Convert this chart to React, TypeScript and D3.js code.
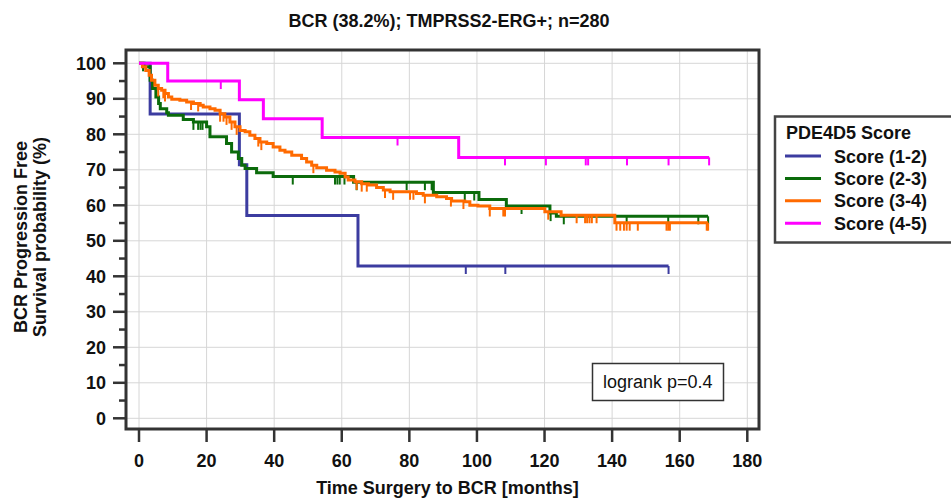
import React from "react";
import * as d3 from "d3";

// ---------- data ----------
const title = "BCR (38.2%); TMPRSS2-ERG+; n=280";
const xLabel = "Time Surgery to BCR [months]";
const yLabel1 = "BCR Progression Free";
const yLabel2 = "Survival probability (%)";
const legendTitle = "PDE4D5 Score";
const seriesNames = ["Score (1-2)", "Score (2-3)", "Score (3-4)", "Score (4-5)"];
const seriesColors = ["#3c3ca0", "#0b6b0b", "#ff6a00", "#ff00ff"];
const xTicks = [0, 20, 40, 60, 80, 100, 120, 140, 160, 180];
const yTicks = [0, 10, 20, 30, 40, 50, 60, 70, 80, 90, 100];
const yMinorTicks = [5, 15, 25, 35, 45, 55, 65, 75, 85, 95];
const pText = "logrank p=0.4";

// step drops: [time (months), survival after drop (%)]
const blueDrops: [number, number][] = [
  [3.3, 85.7], [29.7, 71.4], [31.9, 57.1], [64.8, 42.9],
];
const blueEnd = 156.7;
const blueCensor = [96.7, 108.4, 156.7];

const greenDrops: [number, number][] = [
  [1.5, 99.0], [3.3, 95.2], [4.0, 92.9], [5.0, 90.5], [5.8, 88.7], [6.3, 87.2],
  [8.2, 86.1], [8.7, 85.4], [13.1, 84.2], [16.1, 83.5], [20.0, 82.1], [21.0, 79.3],
  [25.9, 77.4], [27.4, 75.0], [29.4, 73.2], [30.4, 71.3], [31.4, 70.4], [34.8, 69.2],
  [39.7, 68.1], [63.5, 66.5], [87.1, 63.6], [100.6, 61.6], [108.7, 59.8],
  [121.6, 57.8], [123.5, 56.9],
];
const greenEnd = 168.4;
const greenCensor = [
  1.2, 16.1, 17.5, 18.2, 18.8, 45.5, 58.0, 58.7, 59.4, 60.8, 64.4, 79.2, 84.6,
  86.6, 96.4, 99.2, 113.2, 121.8, 125.7, 144.3, 156.6, 165.5, 168.4,
];

const orangeDrops: [number, number][] = [
  [1.0, 99.0], [2.0, 98.0], [3.0, 96.6], [3.7, 95.2], [4.7, 93.8], [5.7, 92.9],
  [6.7, 92.4], [7.7, 91.5], [8.7, 90.5], [9.7, 89.9], [12.1, 89.6], [14.1, 89.1],
  [16.1, 88.7], [18.1, 88.2], [19.0, 87.7], [21.0, 87.2], [22.5, 86.8], [24.0, 85.8],
  [25.4, 84.9], [26.9, 83.5], [28.4, 82.1], [29.9, 81.1], [31.4, 80.7], [32.8, 79.7],
  [34.3, 78.8], [35.8, 77.8], [37.8, 77.4], [39.7, 76.4], [41.7, 75.5], [43.2, 75.0],
  [45.2, 74.1], [48.1, 73.2], [49.6, 72.2], [51.1, 71.3], [52.6, 70.6], [55.5, 69.9],
  [58.0, 69.4], [59.5, 69.0], [61.0, 68.0], [61.9, 67.1], [63.9, 66.6], [65.9, 66.1],
  [67.9, 65.7], [70.3, 65.0], [72.3, 64.3], [74.3, 63.8], [82.1, 63.3], [84.1, 62.8],
  [88.1, 62.4], [91.0, 61.9], [92.5, 61.2], [96.4, 61.0], [97.9, 60.0], [100.3, 59.8],
  [103.8, 59.1], [120.1, 58.2], [124.9, 57.2], [140.8, 55.1],
];
const orangeEnd = 168.4;
const orangeCensor = [
  5.7, 7.2, 7.7, 15.4, 17.5, 24.0, 25.0, 25.9, 27.4, 28.9, 35.3, 36.2, 51.6, 64.4,
  65.9, 67.4, 72.8, 75.2, 80.2, 81.2, 84.6, 92.3, 96.0, 103.8, 107.8, 108.3, 121.1,
  129.5, 132.0, 132.6, 133.3, 134.0, 135.4, 141.3, 142.4, 143.5, 144.3, 145.2,
  147.6, 156.1, 156.6, 157.1, 168.0, 168.4,
];

const magentaDrops: [number, number][] = [
  [8.5, 95.0], [29.7, 89.7], [36.8, 84.4], [54.2, 79.1], [94.6, 73.5],
];
const magentaEnd = 168.7;
const magentaCensor = [24.2, 76.5, 108.3, 120.4, 132.2, 132.9, 144.4, 156.7, 168.7];

const allDrops = [blueDrops, greenDrops, orangeDrops, magentaDrops];
const allEnds = [blueEnd, greenEnd, orangeEnd, magentaEnd];
const allCensor = [blueCensor, greenCensor, orangeCensor, magentaCensor];

// ---------- layout ----------
const W = 951;
const H = 502;
const frame = { left: 126, top: 50, right: 759, bottom: 429 };
const FONT = "'Liberation Sans', Arial, Helvetica, sans-serif";

const x = d3.scaleLinear().domain([0, 180]).range([139, 747.3]);
const y = d3.scaleLinear().domain([0, 100]).range([418.3, 63.3]);

function survivalAt(drops: [number, number][], t: number) {
  let s = 100;
  for (const [dt, v] of drops) if (dt <= t) s = v;
  return s;
}

const stepLine = d3
  .line<[number, number]>()
  .x((d) => x(d[0]))
  .y((d) => y(d[1]))
  .curve(d3.curveStepAfter);

export default function App() {
  const order = [0, 1, 2, 3];
  return (
    <svg
      width={W}
      height={H}
      style={{ position: "absolute", left: 0, top: 0, background: "#fff" }}
      fontFamily={FONT}
    >
      <rect x={0} y={0} width={W} height={H} fill="#fff" />
      {/* title */}
      <text x={449} y={26.5} textAnchor="middle" fontSize={18} fontWeight="bold" fill="#111">
        {title}
      </text>

      {/* grid */}
      <g stroke="#d6d6d6" strokeWidth={1}>
        {xTicks.map((t) => (
          <line key={"gx" + t} x1={x(t)} x2={x(t)} y1={frame.top} y2={frame.bottom} />
        ))}
        {yTicks.map((t) => (
          <line key={"gy" + t} x1={frame.left} x2={frame.right} y1={y(t)} y2={y(t)} />
        ))}
      </g>

      {/* curves */}
      {order.map((i) => {
        const drops = allDrops[i];
        const end = allEnds[i];
        const last = drops[drops.length - 1][1];
        const pts: [number, number][] = [[0, 100], ...drops, [end, last]];
        return (
          <g key={"s" + i}>
            <path d={stepLine(pts) || ""} fill="none" stroke={seriesColors[i]} strokeWidth={3} />
            {allCensor[i].map((c, k) => {
              const s = survivalAt(drops, c);
              return (
                <line
                  key={k}
                  x1={x(c)}
                  x2={x(c)}
                  y1={y(s)}
                  y2={y(s) + 8}
                  stroke={seriesColors[i]}
                  strokeWidth={2}
                />
              );
            })}
          </g>
        );
      })}

      {/* frame */}
      <rect
        x={frame.left}
        y={frame.top}
        width={frame.right - frame.left}
        height={frame.bottom - frame.top}
        fill="none"
        stroke="#333"
        strokeWidth={3}
      />

      {/* y axis ticks */}
      <g stroke="#333" strokeWidth={2.5}>
        {yTicks.map((t) => (
          <line key={"yt" + t} x1={113} x2={frame.left} y1={y(t)} y2={y(t)} />
        ))}
        {yMinorTicks.map((t) => (
          <line key={"ym" + t} x1={119} x2={frame.left} y1={y(t)} y2={y(t)} />
        ))}
      </g>
      {yTicks.map((t) => (
        <text
          key={"yl" + t}
          x={106}
          y={y(t) + 6.5}
          textAnchor="end"
          fontSize={18}
          fontWeight="bold"
          fill="#111"
        >
          {t}
        </text>
      ))}

      {/* x axis ticks */}
      <g stroke="#333" strokeWidth={2.5}>
        {xTicks.map((t) => (
          <line key={"xt" + t} x1={x(t)} x2={x(t)} y1={frame.bottom} y2={442} />
        ))}
      </g>
      {xTicks.map((t) => (
        <text
          key={"xl" + t}
          x={x(t)}
          y={467}
          textAnchor="middle"
          fontSize={18}
          fontWeight="bold"
          fill="#111"
        >
          {t}
        </text>
      ))}

      {/* axis titles */}
      <text x={447.5} y={493.5} textAnchor="middle" fontSize={18} fontWeight="bold" fill="#111">
        {xLabel}
      </text>
      <text
        transform="translate(27,237) rotate(-90)"
        textAnchor="middle"
        fontSize={18}
        fontWeight="bold"
        fill="#111"
      >
        {yLabel1}
      </text>
      <text
        transform="translate(46,237) rotate(-90)"
        textAnchor="middle"
        fontSize={18}
        fontWeight="bold"
        fill="#111"
      >
        {yLabel2}
      </text>

      {/* legend */}
      <rect x={775} y={116.5} width={200} height={126} fill="#fff" stroke="#444" strokeWidth={2.5} />
      <text x={786} y={139.3} fontSize={18} fontWeight="bold" fill="#111">
        {legendTitle}
      </text>
      {seriesNames.map((n, i) => {
        const ly = 156 + i * 22.4;
        return (
          <g key={"lg" + i}>
            <line x1={785} x2={821} y1={ly} y2={ly} stroke={seriesColors[i]} strokeWidth={3} />
            <text x={834} y={ly + 6.5} fontSize={18} fontWeight="bold" fill="#111">
              {n}
            </text>
          </g>
        );
      })}

      {/* logrank box */}
      <rect x={592.5} y={363.5} width={131} height={37} fill="#fff" stroke="#333" strokeWidth={1.5} />
      <text x={603} y={388} fontSize={18} fill="#111">
        {pText}
      </text>
    </svg>
  );
}
